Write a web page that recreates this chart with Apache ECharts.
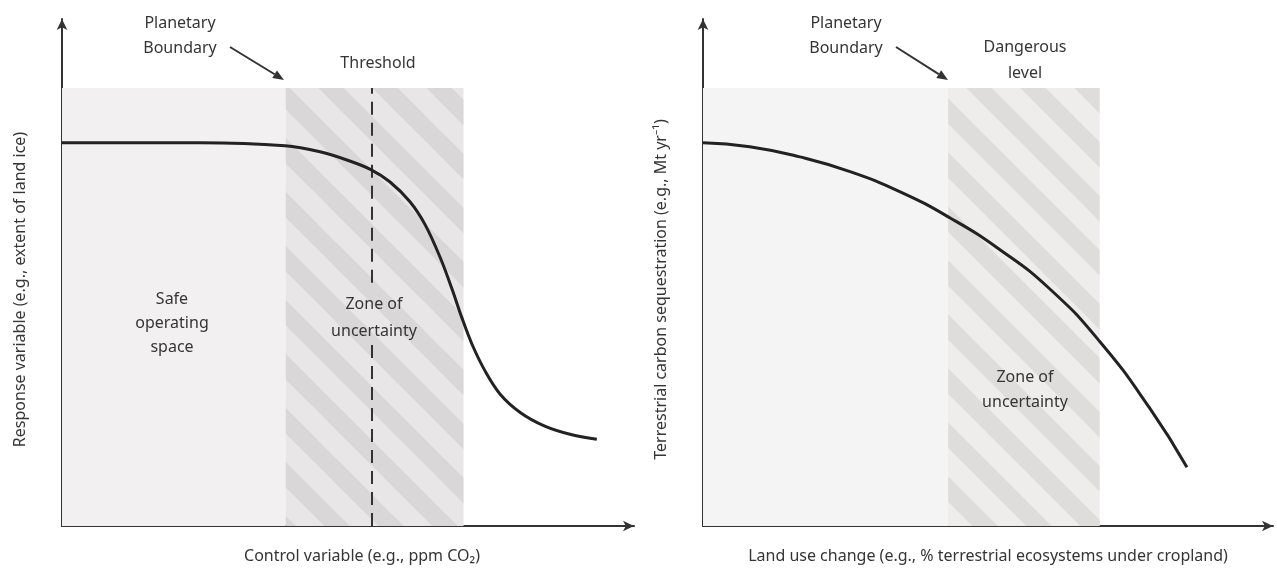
<!DOCTYPE html>
<html><head><meta charset="utf-8">
<script src="https://cdn.jsdelivr.net/npm/echarts@6/dist/echarts.min.js"></script>
<style>html,body{margin:0;padding:0;background:#fff}#c{width:1277px;height:569px}</style>
</head><body><div id="c"></div>
<script>
// Left panel: response curve with threshold
const leftX = [0, 24.1, 39.0, 45.1, 50.3, 54.0, 57.3, 60.8, 63.5, 66.1, 68.2, 69.9, 71.7, 74.0, 76.6, 80.1, 84.4, 88.8, 93.5];
const leftY = [75.6, 75.6, 75.0, 73.8, 72.0, 70.3, 67.9, 64.0, 59.4, 53.0, 46.7, 41.1, 35.8, 30.5, 26.0, 22.4, 19.7, 18.1, 17.1];
const leftSafe = [0, 39.1];
const leftZone = [39.1, 70.2];
const leftThreshold = 54.2;
const thresholdGap = [35.8, 48.0];
// Right panel: smooth decline
const rightX = [0, 8.2, 17, 25.8, 34.6, 43.3, 52.1, 60.9, 69.6, 78.4, 84.9];
const rightY = [75.6, 74.8, 72.8, 69.9, 65.9, 60.8, 54.5, 46.7, 36.4, 23.2, 11.6];
const rightSafe = [0, 43];
const rightZone = [43, 69.6];
const zoneTop = 86.4;

const leftXName = 'Control variable (e.g., ppm CO\u2082)';
const leftYName = 'Response variable (e.g., extent of land ice)';
const rightXName = 'Land use change (e.g., % terrestrial ecosystems under cropland)';
const rightYName = 'Terrestrial carbon sequestration (e.g., Mt yr\u207B\u00B9)';

const FONT = 'Noto Sans';
const TXT = '#353535';

function stripes(base, light, size, band) {
  const c = document.createElement('canvas');
  c.width = c.height = size;
  const g = c.getContext('2d');
  g.fillStyle = base; g.fillRect(0, 0, size, size);
  g.strokeStyle = light; g.lineWidth = band;
  for (let k = -2; k <= 2; k++) {
    g.beginPath(); g.moveTo(k * size - size, -size); g.lineTo(k * size + 2 * size, 2 * size); g.stroke();
  }
  return c;
}
const hatchL = stripes('#d9d7d8', '#e9e6e7', 54, 20);
const hatchR = stripes('#dfdcdc', '#efecec', 54, 20);

function pairs(xs, ys) { return xs.map((x, i) => [x, ys[i]]); }

function axisX(idx, name, pad) {
  return {
    type: 'value', gridIndex: idx, min: 0, max: 100,
    axisLine: { onZero: false, lineStyle: { color: '#333', width: 2 }, symbol: ['none', 'arrow'], symbolSize: [8, 11] },
    axisTick: { show: false }, axisLabel: { show: false }, splitLine: { show: false },
    name: name, nameLocation: 'middle', nameGap: 22,
    nameTextStyle: { fontFamily: FONT, fontSize: 16, color: TXT, padding: pad }
  };
}
function axisY(idx, name, pad) {
  return {
    type: 'value', gridIndex: idx, min: 0, max: 100,
    axisLine: { onZero: false, lineStyle: { color: '#333', width: 2 }, symbol: ['none', 'arrow'], symbolSize: [8, 11] },
    axisTick: { show: false }, axisLabel: { show: false }, splitLine: { show: false },
    name: name, nameLocation: 'middle', nameGap: 34, nameRotate: 90,
    nameTextStyle: { fontFamily: FONT, fontSize: 16, color: TXT, padding: pad }
  };
}

function txt(x, y, s, lh) {
  return { type: 'text', x: x, y: y, z: 100,
    style: { text: s, fill: TXT, font: '16px "' + FONT + '"', align: 'center', verticalAlign: 'middle', lineHeight: lh || 25 } };
}
function arrow(x1, y1, x2, y2) {
  const dx = x2 - x1, dy = y2 - y1, L = Math.hypot(dx, dy);
  const ux = dx / L, uy = dy / L, px = -uy, py = ux;
  const bx = x2 - 11 * ux, by = y2 - 11 * uy;
  return [
    { type: 'line', z: 100, shape: { x1: x1, y1: y1, x2: bx, y2: by }, style: { stroke: '#333', lineWidth: 2 } },
    { type: 'polygon', z: 100, shape: { points: [[x2, y2], [bx + 4.5 * px, by + 4.5 * py], [bx - 4.5 * px, by - 4.5 * py]] }, style: { fill: '#333' } }
  ];
}

const chart = echarts.init(document.getElementById('c'), null, { renderer: 'canvas' });
chart.setOption({
  backgroundColor: '#fff',
  animation: false,
  grid: [
    { left: 62, top: 19, width: 572, height: 508 },
    { left: 703, top: 19, width: 570, height: 508 }
  ],
  xAxis: [axisX(0, leftXName, [0, 0, 0, 28]), axisX(1, rightXName, [0, 0, 0, 0])],
  yAxis: [axisY(0, leftYName, [0, 34, 0, 0]), axisY(1, rightYName, [0, 34, 0, 0])],
  series: [
    {
      type: 'line', xAxisIndex: 0, yAxisIndex: 0, data: pairs(leftX, leftY),
      smooth: 0.35, showSymbol: false, z: 5,
      lineStyle: { color: '#222', width: 3 },
      markArea: {
        silent: true,
        data: [
          [{ xAxis: leftSafe[0], yAxis: 0, itemStyle: { color: '#f3f0f1' } }, { xAxis: leftSafe[1], yAxis: zoneTop }],
          [{ xAxis: leftZone[0], yAxis: 0, itemStyle: { color: { image: hatchL, repeat: 'repeat' } } }, { xAxis: leftZone[1], yAxis: zoneTop }]
        ]
      },
      markLine: {
        silent: true, symbol: 'none', label: { show: false },
        lineStyle: { color: '#333', width: 2, type: [13, 8] },
        data: [
          [{ coord: [leftThreshold, 0] }, { coord: [leftThreshold, thresholdGap[0]] }],
          [{ coord: [leftThreshold, thresholdGap[1]] }, { coord: [leftThreshold, zoneTop] }]
        ]
      }
    },
    {
      type: 'line', xAxisIndex: 1, yAxisIndex: 1, data: pairs(rightX, rightY),
      smooth: 0.5, showSymbol: false, z: 5,
      lineStyle: { color: '#222', width: 3 },
      markArea: {
        silent: true,
        data: [
          [{ xAxis: rightSafe[0], yAxis: 0, itemStyle: { color: '#f4f4f4' } }, { xAxis: rightSafe[1], yAxis: zoneTop }],
          [{ xAxis: rightZone[0], yAxis: 0, itemStyle: { color: { image: hatchR, repeat: 'repeat' } } }, { xAxis: rightZone[1], yAxis: zoneTop }]
        ]
      }
    }
  ],
  graphic: [
    txt(180, 35.5, 'Planetary\nBoundary', 25),
    ...arrow(230, 47, 284, 80),
    txt(378, 63, 'Threshold'),
    txt(172, 323, 'Safe\noperating\nspace', 24),
    txt(374, 318, 'Zone of\nuncertainty', 27),
    txt(846, 35.5, 'Planetary\nBoundary', 25),
    ...arrow(896, 47, 948, 80),
    txt(1025, 60, 'Dangerous\nlevel', 26),
    txt(1025, 390, 'Zone of\nuncertainty', 25)
  ]
});
</script>
</body></html>
